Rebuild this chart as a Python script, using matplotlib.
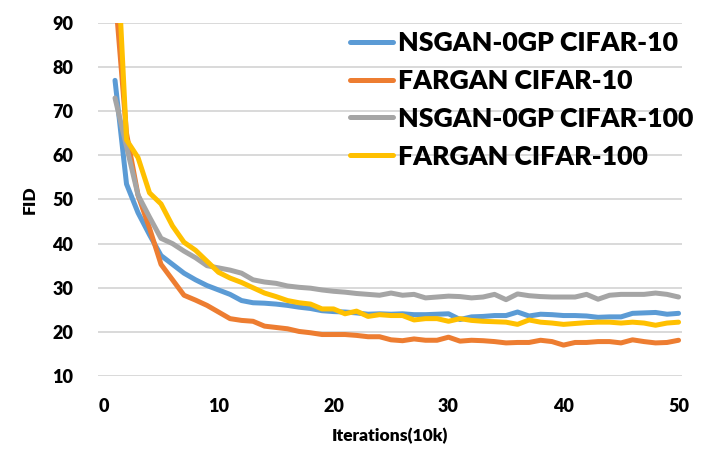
import matplotlib
matplotlib.use("Agg")
import matplotlib.pyplot as plt

iterations = list(range(1, 51))

nsgan_c10 = [77, 53.5, 47, 42, 37.3, 35.3, 33.3, 31.8, 30.5, 29.5,
             28.5, 27.1, 26.6, 26.5, 26.3, 26.0, 25.6, 25.3, 24.8, 24.6,
             24.5, 24.3, 24.0, 24.1, 24.0, 24.1, 23.9, 23.9, 24.0, 24.1,
             22.8, 23.4, 23.5, 23.7, 23.7, 24.5, 23.6, 24.0, 23.9, 23.7,
             23.7, 23.6, 23.3, 23.4, 23.4, 24.2, 24.3, 24.4, 24.0, 24.2]

fargan_c10 = [97, 65, 51, 43.5, 35.3, 31.8, 28.3, 27.2, 26.0, 24.5,
              23.0, 22.6, 22.4, 21.3, 21.0, 20.7, 20.1, 19.8, 19.4, 19.4,
              19.4, 19.2, 18.9, 18.9, 18.2, 18.0, 18.4, 18.1, 18.1, 18.8,
              17.9, 18.1, 18.0, 17.8, 17.5, 17.6, 17.6, 18.1, 17.8, 17.0,
              17.6, 17.6, 17.8, 17.8, 17.5, 18.2, 17.8, 17.5, 17.6, 18.1]

nsgan_c100 = [73, 62, 51, 46, 41.2, 40.0, 38.3, 36.8, 35.0, 34.5,
              34.0, 33.3, 31.8, 31.3, 31.0, 30.4, 30.1, 29.9, 29.5, 29.2,
              29.0, 28.7, 28.5, 28.3, 28.8, 28.3, 28.5, 27.7, 27.9, 28.1,
              28.0, 27.7, 27.9, 28.5, 27.3, 28.6, 28.2, 28.0, 27.9, 27.9,
              27.9, 28.5, 27.4, 28.3, 28.5, 28.5, 28.5, 28.8, 28.5, 27.9]

fargan_c100 = [116, 63.5, 59.5, 51.5, 49.0, 44.0, 40.3, 38.5, 36.0, 33.5,
               32.2, 31.2, 30.0, 28.8, 28.0, 27.1, 26.6, 26.3, 25.2, 25.2,
               24.1, 24.7, 23.5, 23.9, 23.7, 23.7, 22.7, 23.0, 23.0, 22.4,
               23.0, 22.6, 22.4, 22.3, 22.2, 21.7, 22.7, 22.2, 22.0, 21.7,
               21.9, 22.1, 22.2, 22.2, 22.0, 22.2, 22.0, 21.5, 22.0, 22.2]

labels = ["NSGAN-0GP CIFAR-10", "FARGAN CIFAR-10",
          "NSGAN-0GP CIFAR-100", "FARGAN CIFAR-100"]
colors = ["#5B9BD5", "#ED7D31", "#A5A5A5", "#FFC000"]

xticks = [0, 10, 20, 30, 40, 50]
yticks = [10, 20, 30, 40, 50, 60, 70, 80, 90]

plt.rcParams['font.family'] = ['Lato', 'DejaVu Sans']
WEIGHT = 'heavy'

W, H = 709, 473
fig = plt.figure(figsize=(W / 100, H / 100), dpi=100)
left, right, top, bottom = 98, 682, 23, 376
ax = fig.add_axes([left / W, 1 - bottom / H, (right - left) / W, (bottom - top) / H])

for series, lab, col in zip([nsgan_c10, fargan_c10, nsgan_c100, fargan_c100], labels, colors):
    ax.plot(iterations, series, color=col, lw=3.6, label=lab,
            solid_capstyle='round', solid_joinstyle='round')

ax.set_xlim(-0.48, 50.3)
ax.set_ylim(10, 90)
ax.set_xticks(xticks)
ax.set_yticks(yticks)
ax.grid(axis='y', color='#D9D9D9', lw=1.4)
ax.set_axisbelow(True)
for s in ax.spines.values():
    s.set_visible(False)
ax.tick_params(length=0, labelsize=13, pad=16)
ax.tick_params(axis='y', pad=18)
for t in ax.get_xticklabels() + ax.get_yticklabels():
    t.set_fontweight(WEIGHT)

ax.set_xlabel("Iterations(10k)", fontsize=12.5, fontweight=WEIGHT, labelpad=9)
ax.set_ylabel("FID", fontsize=12.5, fontweight=WEIGHT, labelpad=10)

leg = ax.legend(loc='upper left', bbox_to_anchor=(350 / W, 1 - 31 / H),
                bbox_transform=fig.transFigure, frameon=False,
                prop={'size': 19.2, 'weight': WEIGHT}, handlelength=1.6,
                handletextpad=0.2, labelspacing=0.52, borderpad=0, borderaxespad=0)
for l in leg.get_lines():
    l.set_linewidth(3.6)

fig.savefig("out.png", dpi=100)
